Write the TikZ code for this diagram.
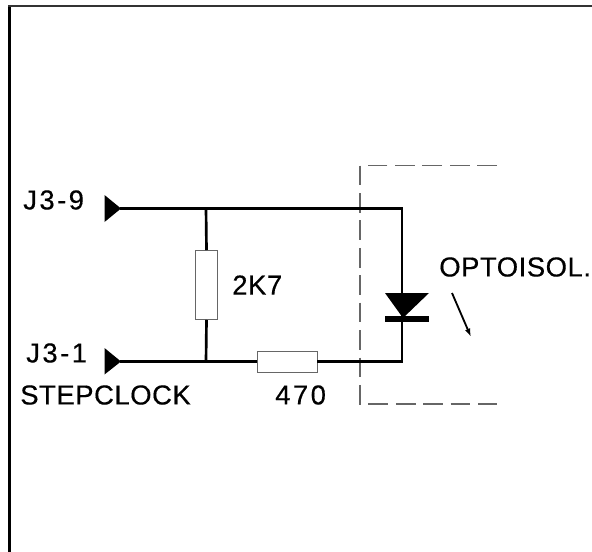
\documentclass[tikz,border=0pt]{standalone}
\usepackage{fontspec}
\setmainfont{Liberation Sans}[FakeBold = 0.4, LetterSpace = 2]
\usetikzlibrary{arrows.meta}

\definecolor{boxgray}{gray}{0.4}

\tikzset{
	wire/.style = {line width = 1.9pt, black},
	resistor/.style = {draw = boxgray, line width = 0.7pt, fill = white, inner sep = 0pt},
	label/.style = {inner sep = 0pt, anchor = west, font = \fontsize{19.5}{19.5}\selectfont},
	widelabel/.style = {label, font = \fontsize{19.5}{19.5}\selectfont\addfontfeature{LetterSpace = 9}}
}

\begin{document}
\begin{tikzpicture}[> = latex, x = 0.025 cm, y = -0.025 cm]

	\useasboundingbox (0, 0) rectangle (592, 552);

	% outer frame
	\draw [line width = 2.1pt] (9.5, 552) -- (9.5, 6);
	\draw [line width = 1.5pt, black!80] (8, 6) -- (592, 6);

	% optoisolator outline
	\draw [boxgray, line width = 0.8pt, dash pattern = on 14pt off 5.5pt]
		(497, 165.5) -- (360, 165.5) -- (360, 404) -- (497, 404);

	\coordinate (pin9) at (120, 208.5);
	\coordinate (pin1) at (120, 361.5);
	\coordinate (top) at (206, 208.5);
	\coordinate (bot) at (206, 361.5);
	\coordinate (corner9) at (402, 208.5);
	\coordinate (corner1) at (402, 361.5);
	\coordinate (arrowA) at (452, 293);
	\coordinate (arrowB) at (471, 337);

	\node [resistor, minimum width = 21.5 * 0.025 cm, minimum height = 69 * 0.025 cm] (rtwo) at (206.5, 285) {};
	\node [resistor, minimum width = 60 * 0.025 cm, minimum height = 21 * 0.025 cm] (rfour) at (287, 361.5) {};

	\draw [wire, line join = miter] (pin9) -- (corner9) -- (corner1) -- (rfour.east);
	\draw [wire] (top) -- (rtwo.north);
	\draw [wire] (rtwo.south) -- (bot);
	\draw [wire] (pin1) -- (rfour.west);

	% input pins
	\fill (104.5, 195) -- (121, 208.5) -- (104.5, 222) -- cycle;
	\fill (104.5, 348) -- (121, 361.5) -- (104.5, 374.5) -- cycle;

	% diode
	\fill (385, 293) -- (429, 293) -- (403, 318) -- cycle;
	\fill (385, 316) rectangle (429, 322);

	\draw [->, line width = 1.3pt, > = {Latex[length = 6pt, width = 4pt]}] (arrowA) -- (arrowB);

	\node [widelabel] (lblnine) at (23, 200) {J3-9};
	\node [widelabel] (lblone) at (26, 353) {J3-1};
	\node [label] (lblstep) at (20, 395) {STEPCLOCK};
	\node [label] (lbltwo) at (232, 285) {2K7};
	\node [widelabel] (lblfour) at (275, 395) {470};
	\node [label] (lblopto) at (439, 267) {OPTOISOL.};

\end{tikzpicture}
\end{document}
